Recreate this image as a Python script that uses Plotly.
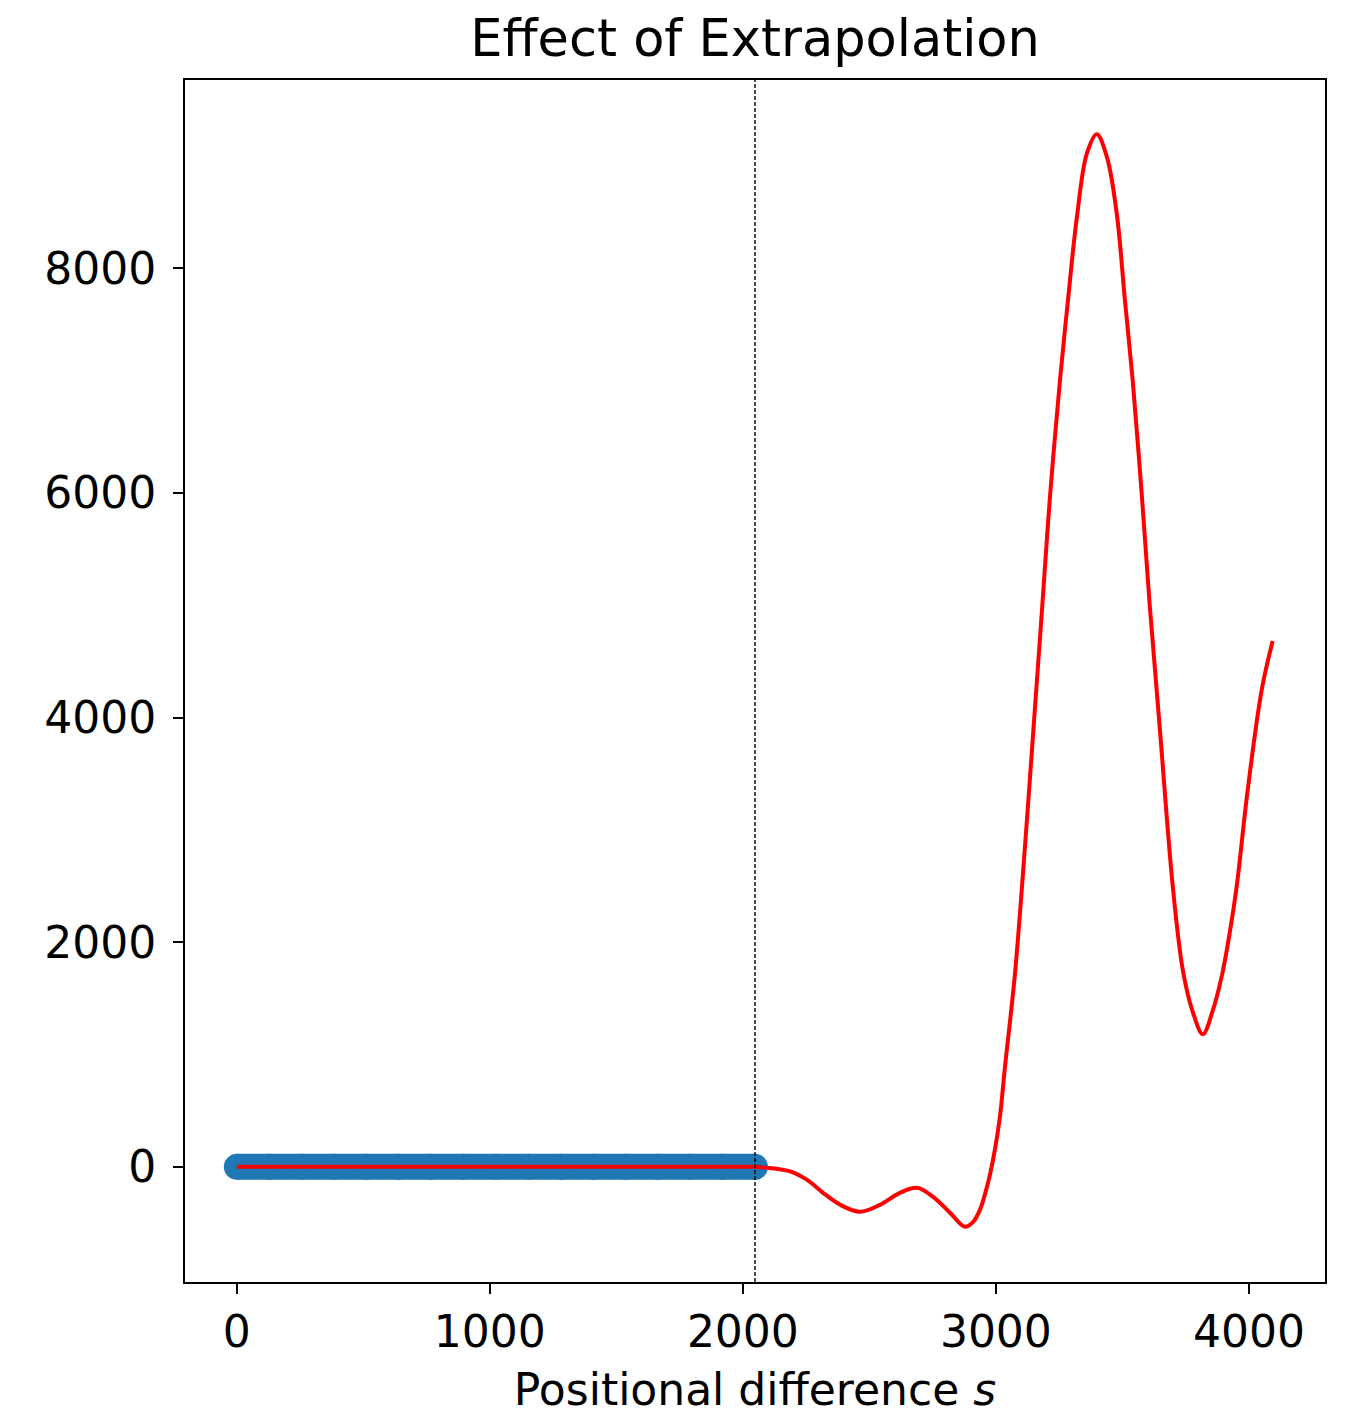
import plotly.graph_objects as go

# Training positions (blue band) and their values
train_x = [0, 128, 256, 384, 512, 640, 768, 896, 1024, 1152, 1280, 1408,
           1536, 1664, 1792, 1920, 2048]
train_y = [0, 0, 0, 0, 0, 0, 0, 0, 0, 0, 0, 0, 0, 0, 0, 0, 0]

# Extrapolated curve (red)
extra_x = [0, 1000, 2000, 2048, 2096, 2140, 2187, 2254, 2317, 2385, 2463,
           2542, 2621, 2688, 2752, 2819, 2878, 2910, 2937, 2969, 2996, 3016,
           3036, 3075, 3115, 3147, 3182, 3214, 3253, 3285, 3320, 3360, 3399,
           3439, 3478, 3510, 3541, 3577, 3608, 3648, 3699, 3739, 3778, 3818,
           3857, 3893, 3924, 3952, 3995, 4051, 4094]
extra_y = [0, 0, 0, 0, -9, -20, -40, -116, -231, -338, -400,
           -338, -231, -187, -267, -409, -534, -490, -383, -142, 151, 445,
           890, 1708, 2850, 3850, 4950, 5970, 6994, 7715, 8450, 9023, 9192,
           8988, 8481, 7715, 6994, 5970, 5000, 3900, 2500, 1750, 1380, 1180,
           1390, 1700, 2080, 2500, 3350, 4250, 4681]

boundary_x = 2048

x_ticks = [0, 1000, 2000, 3000, 4000]
y_ticks = [0, 2000, 4000, 6000, 8000]

fig = go.Figure()

fig.add_trace(go.Scatter(
    x=train_x, y=train_y, mode="lines+markers",
    line=dict(color="#1f77b4", width=26),
    marker=dict(color="#1f77b4", size=26, line=dict(width=0)),
    showlegend=False, hoverinfo="skip",
))

fig.add_trace(go.Scatter(
    x=extra_x, y=extra_y, mode="lines",
    line=dict(color="#ff0000", width=4, shape="spline", smoothing=1.0),
    showlegend=False,
))

fig.add_shape(type="line", xref="x", yref="paper",
              x0=boundary_x, x1=boundary_x, y0=0, y1=1,
              line=dict(color="black", width=1.4, dash="4px,2px"))

font_family = "DejaVu Sans"

fig.update_layout(
    width=1342, height=1412,
    paper_bgcolor="white", plot_bgcolor="white",
    margin=dict(l=177, r=25, t=72, b=138),
    font=dict(family=font_family, color="#000000", size=43),
    title=dict(text="Effect of Extrapolation", x=(177 + 570) / 1342,
               xanchor="center", yref="paper", y=1, yanchor="bottom",
               pad=dict(b=24), font=dict(size=51, family=font_family, color="#000000")),
    showlegend=False,
)

fig.update_xaxes(
    range=[-204.8, 4300.8], tickvals=x_ticks, ticktext=[str(v) for v in x_ticks],
    showgrid=False, zeroline=False,
    showline=True, linecolor="black", linewidth=2, mirror=True,
    ticks="outside", ticklen=10, tickwidth=2, tickcolor="black",
    tickfont=dict(size=44, family=font_family, color="#000000"),
    title=dict(text="Positional difference <i>s</i>", standoff=18,
               font=dict(size=44, family=font_family, color="#000000")),
)
fig.update_yaxes(
    range=[-1025, 9675], tickvals=y_ticks, ticktext=[str(v) for v in y_ticks],
    showgrid=False, zeroline=False,
    showline=True, linecolor="black", linewidth=2, mirror=True,
    ticks="outside", ticklen=10, tickwidth=2, tickcolor="black",
    ticklabelstandoff=8,
    tickfont=dict(size=44, family=font_family, color="#000000"),
)

fig.write_html("out.html")
